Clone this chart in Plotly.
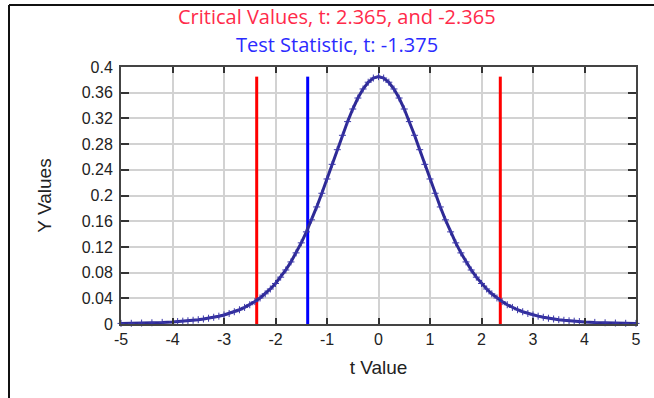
import plotly.graph_objects as go

# t distribution curve
t_values = [-5.0, -4.8, -4.6, -4.4, -4.2, -4.0, -3.9, -3.8, -3.7, -3.6, -3.5, -3.4, -3.3, -3.2, -3.1,
            -3.0, -2.9, -2.8, -2.7, -2.6, -2.5, -2.4, -2.3, -2.2, -2.1, -2.0, -1.9, -1.8, -1.7, -1.6,
            -1.5, -1.4, -1.3, -1.2, -1.1, -1.0, -0.9, -0.8, -0.7, -0.6, -0.5, -0.4, -0.3, -0.2, -0.1,
            0.0, 0.1, 0.2, 0.3, 0.4, 0.5, 0.6, 0.7, 0.8, 0.9, 1.0, 1.1, 1.2, 1.3, 1.4, 1.5, 1.6, 1.7,
            1.8, 1.9, 2.0, 2.1, 2.2, 2.3, 2.4, 2.5, 2.6, 2.7, 2.8, 2.9, 3.0, 3.1, 3.2, 3.3, 3.4, 3.5,
            3.6, 3.7, 3.8, 3.9, 4.0, 4.2, 4.4, 4.6, 4.8, 5.0]
y_values = [0.0009, 0.0011, 0.0015, 0.0019, 0.0025, 0.0033, 0.0038, 0.0044, 0.0050, 0.0058, 0.0067,
            0.0078, 0.0090, 0.0105, 0.0122, 0.0141, 0.0164, 0.0191, 0.0222, 0.0258, 0.0300, 0.0349,
            0.0405, 0.0470, 0.0545, 0.0631, 0.0729, 0.0841, 0.0966, 0.1107, 0.1263, 0.1434, 0.1621,
            0.1822, 0.2035, 0.2257, 0.2485, 0.2713, 0.2937, 0.3150, 0.3346, 0.3517, 0.3658, 0.3763,
            0.3828, 0.3850, 0.3828, 0.3763, 0.3658, 0.3517, 0.3346, 0.3150, 0.2937, 0.2713, 0.2485,
            0.2257, 0.2035, 0.1822, 0.1621, 0.1434, 0.1263, 0.1107, 0.0966, 0.0841, 0.0729, 0.0631,
            0.0545, 0.0470, 0.0405, 0.0349, 0.0300, 0.0258, 0.0222, 0.0191, 0.0164, 0.0141, 0.0122,
            0.0105, 0.0090, 0.0078, 0.0067, 0.0058, 0.0050, 0.0044, 0.0038, 0.0033, 0.0025, 0.0019,
            0.0015, 0.0011, 0.0009]

critical_values = [-2.365, 2.365]
test_statistic = -1.375
line_top = 0.385

x_ticks = [-5, -4, -3, -2, -1, 0, 1, 2, 3, 4, 5]
x_tick_labels = ["-5", "-4", "-3", "-2", "-1", "0", "1", "2", "3", "4", "5"]
y_ticks = [0, 0.04, 0.08, 0.12, 0.16, 0.2, 0.24, 0.28, 0.32, 0.36, 0.4]
y_tick_labels = ["0", "0.04", "0.08", "0.12", "0.16", "0.2", "0.24", "0.28", "0.32", "0.36", "0.4"]

title_red = "Critical Values, t: 2.365, and -2.365"
title_blue = "Test Statistic, t: -1.375"

W, H = 654, 398
L, R, T, B = 121, 18, 67, 74
pw, ph = W - L - R, H - T - B

def px(x):
    return (x - L) / pw

def py(y):
    return (H - B - y) / ph

fig = go.Figure()

for cv in critical_values:
    fig.add_trace(go.Scatter(x=[cv, cv], y=[0, line_top], mode="lines",
                             line=dict(color="#ff0000", width=3), showlegend=False,
                             hoverinfo="skip"))
fig.add_trace(go.Scatter(x=[test_statistic, test_statistic], y=[0, line_top], mode="lines",
                         line=dict(color="#0000ff", width=3), showlegend=False,
                         hoverinfo="skip"))

fig.add_trace(go.Scatter(x=t_values, y=y_values, mode="lines+markers",
                         line=dict(color="#2e2a96", width=3),
                         marker=dict(symbol="cross-thin", size=5,
                                     line=dict(color="#3a36a8", width=1)),
                         cliponaxis=False, showlegend=False))

tick_font = dict(family="Liberation Sans, Arial", size=16, color="#222222")
title_font = dict(family="Liberation Sans, Arial", size=19, color="#222222")

axis_common = dict(showline=True, linecolor="#444444", linewidth=2, mirror="ticks",
                   ticks="inside", tickcolor="#333333", tickwidth=2,
                   showgrid=True, gridcolor="#d2d2d2", gridwidth=1.5, zeroline=False,
                   tickfont=tick_font)

fig.update_xaxes(range=[-5, 5], tickvals=x_ticks, ticktext=x_tick_labels, ticklen=6,
                 title=dict(text="t Value", standoff=13, font=title_font),
                 **axis_common)
fig.update_yaxes(range=[0, 0.4], tickvals=y_ticks, ticktext=y_tick_labels, ticklen=8,
                 ticklabelstandoff=3,
                 title=dict(text="Y Values", standoff=25, font=title_font),
                 **axis_common)

fig.add_annotation(text=title_red, xref="paper", yref="paper", x=px(337), y=py(16),
                   showarrow=False, xanchor="center", yanchor="middle",
                   font=dict(family="Open Sans", size=20, color="#ff2a4a"))
fig.add_annotation(text=title_blue, xref="paper", yref="paper", x=px(337), y=py(44),
                   showarrow=False, xanchor="center", yanchor="middle",
                   font=dict(family="Open Sans", size=20, color="#2b2bff"))

# outer frame (left and top edges)
fig.add_shape(type="line", xref="paper", yref="paper", x0=px(9), x1=px(9), y0=py(5), y1=py(400),
              line=dict(color="#111111", width=2))
fig.add_shape(type="line", xref="paper", yref="paper", x0=px(9), x1=px(660), y0=py(5), y1=py(5),
              line=dict(color="#111111", width=2))

fig.update_layout(width=W, height=H, margin=dict(l=L, r=R, t=T, b=B, pad=0),
                  paper_bgcolor="white", plot_bgcolor="white")

fig.write_html("out.html")
